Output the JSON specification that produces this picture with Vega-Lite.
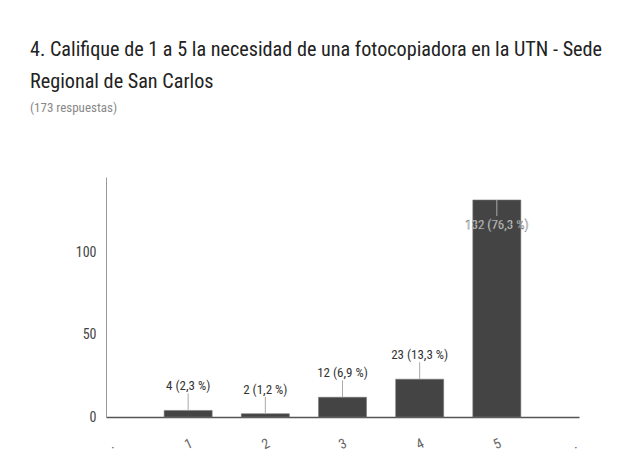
{
  "$schema": "https://vega.github.io/schema/vega-lite/v6.json",
  "width": 473,
  "height": 240,
  "autosize": {"type": "none"},
  "padding": {"left": 106, "top": 177, "right": 58, "bottom": 49},
  "background": "white",
  "config": {"view": {"stroke": null}, "font": "'Roboto Condensed', 'DejaVu Sans Condensed', 'Liberation Sans Narrow', Roboto"},
  "title": {
    "text": ["4. Califique de 1 a 5 la necesidad de una fotocopiadora en la UTN - Sede", "Regional de San Carlos"],
    "subtitle": "(173 respuestas)",
    "anchor": "start",
    "frame": "group",
    "dx": -76,
    "offset": 62,
    "font": "'Roboto Condensed', 'DejaVu Sans Condensed', 'Liberation Sans Narrow', Roboto",
    "fontSize": 20.2,
    "fontWeight": "normal",
    "color": "#222",
    "lineHeight": 32,
    "subtitleFont": "'Roboto Condensed', 'DejaVu Sans Condensed', 'Liberation Sans Narrow', Roboto",
    "subtitleFontSize": 13,
    "subtitleColor": "#888",
    "subtitlePadding": 10
  },
  "data": {
    "values": [
      {"rating": 1, "count": 4, "label": "4 (2,3 %)"},
      {"rating": 2, "count": 2, "label": "2 (1,2 %)"},
      {"rating": 3, "count": 12, "label": "12 (6,9 %)"},
      {"rating": 4, "count": 23, "label": "23 (13,3 %)"},
      {"rating": 5, "count": 132, "label": "132 (76,3 %)"}
    ]
  },
  "encoding": {
    "x": {
      "field": "rating",
      "type": "quantitative",
      "scale": {"domain": [0, 6], "nice": false},
      "axis": {
        "title": null,
        "values": [0, 1, 2, 3, 4, 5, 6],
        "labelExpr": "datum.value == 0 || datum.value == 6 ? '.' : datum.label",
        "labelAngle": -25,
        "labelAlign": "center",
        "labelBaseline": "middle",
        "labelPadding": 27,
        "labelFontSize": 14,
        "labelColor": "#666",
        "ticks": false,
        "grid": false,
        "domainColor": "#555",
        "domainWidth": 1.5
      }
    },
    "y": {
      "field": "count",
      "type": "quantitative",
      "scale": {"domain": [0, 146], "nice": false},
      "axis": {
        "title": null,
        "values": [0, 50, 100],
        "labelPadding": 10,
        "labelFontSize": 14,
        "labelColor": "#444",
        "ticks": false,
        "grid": false,
        "domainColor": "#999",
        "domainWidth": 1
      }
    }
  },
  "layer": [
    {
      "mark": {"type": "bar", "color": "#444", "stroke": "#777", "strokeWidth": 0.6, "width": 48}
    },
    {
      "transform": [{"filter": "datum.count < 100"}],
      "mark": {"type": "rule", "color": "#aaa", "strokeWidth": 1, "y2Offset": -17},
      "encoding": {"y2": {"field": "count"}}
    },
    {
      "transform": [{"filter": "datum.count < 100"}],
      "mark": {"type": "text", "baseline": "bottom", "dy": -17, "fontSize": 13, "color": "#333"},
      "encoding": {"text": {"field": "label"}}
    },
    {
      "transform": [{"filter": "datum.count >= 100"}],
      "mark": {"type": "rule", "color": "#aaa", "strokeWidth": 1, "y2Offset": 16},
      "encoding": {"y2": {"field": "count"}}
    },
    {
      "transform": [{"filter": "datum.count >= 100"}],
      "mark": {"type": "text", "baseline": "middle", "dy": 25, "fontSize": 13, "fill": "#f4f4f4", "stroke": "#555", "strokeWidth": 0.35},
      "encoding": {"text": {"field": "label"}}
    }
  ]
}
